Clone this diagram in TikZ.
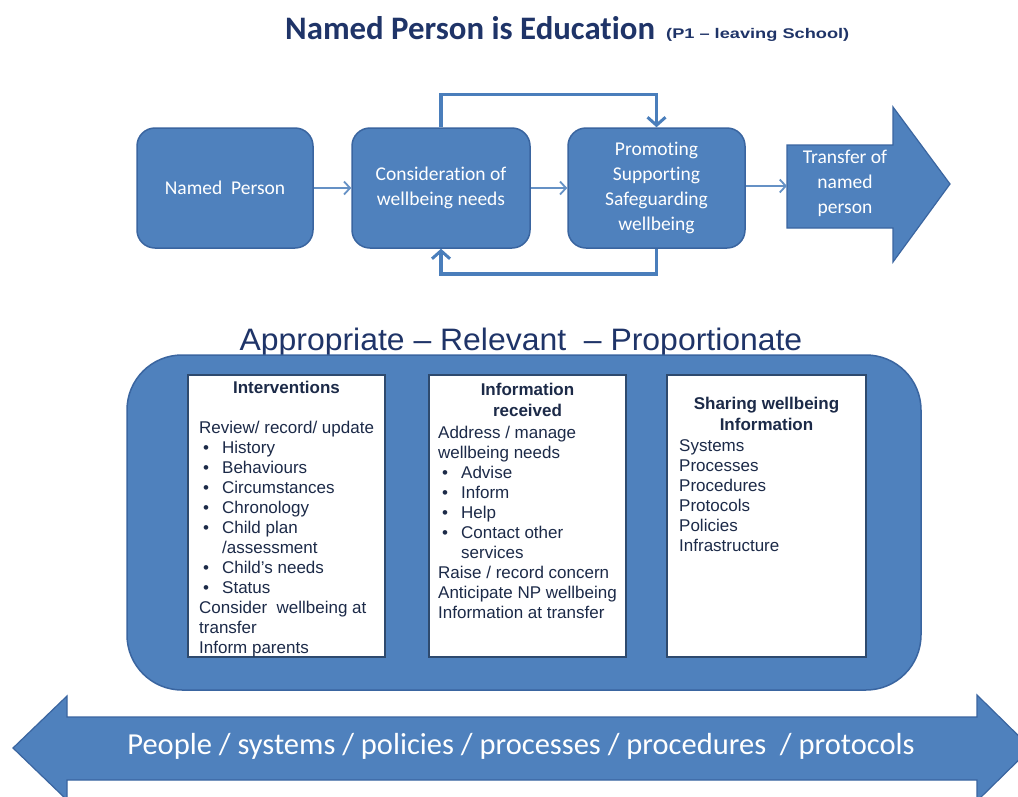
\documentclass[tikz,border=0pt]{standalone}
\usepackage{fontspec}
\setmainfont{Liberation Sans}
\newfontfamily\calfont[Ligatures={NoCommon,NoContextual}]{Carlito}
\usetikzlibrary{arrows.meta}
\definecolor{boxblue}{HTML}{4F81BD}
\definecolor{boxedge}{HTML}{3A65A0}
\definecolor{linkblue}{HTML}{4A7EBB}
\definecolor{titlenavy}{HTML}{1F3468}
\definecolor{textnavy}{HTML}{1C2A48}
\definecolor{whiteedge}{HTML}{2E4A6E}
\newcommand{\bitem}[1]{\makebox[23pt][l]{\hspace{4pt}\textbullet}#1}
\newcommand{\hangline}[1]{\hspace{23pt}#1}
\begin{document}
\begin{tikzpicture}[x=1pt,y=-1pt,
  flowbox/.style={draw=boxedge, line width=1.5pt, fill=boxblue, rounded corners=18pt,
    text=white, font=\calfont\fontsize{19.5}{25}\selectfont, align=center, inner sep=0,
    minimum height=120pt},
  thinlink/.style={draw=linkblue!85!white, line width=1.8pt, -{Straight Barb[length=6pt,width=13pt,line width=1.8pt]}},
  looplink/.style={draw=linkblue, line width=3.5pt, -{Straight Barb[length=8pt,width=18pt,line width=3pt]}},
  panel/.style={draw=boxedge, line width=1.5pt, fill=boxblue, rounded corners=55pt, inner sep=0},
  whitebox/.style={draw=whiteedge, line width=1.2pt, fill=white, inner sep=0, minimum height=282pt},
  bodytext/.style={font=\fontsize{17}{20}\selectfont, align=left, inner sep=0, text=textnavy},
  headtext/.style={font=\bfseries\fontsize{17}{21}\selectfont, align=center, inner sep=0, text=textnavy},
  shapefill/.style={fill=boxblue, draw=boxedge, line width=1.2pt}
]
\clip (0,0) rectangle (1018,796);
\fill[white] (0,0) rectangle (1018,796);

% Title
\node[anchor=base west, inner sep=0, text=titlenavy, font=\calfont\bfseries\fontsize{32.8}{36}\selectfont] (title) at (285,39) {Named Person is Education};
\node[anchor=base west, inner sep=0, text=titlenavy, font=\bfseries\fontsize{14}{16}\selectfont] (subtitle) at (666,38) {\scalebox{1.3}[1]{(P1 -- leaving School)}};

% Top flow
\node[flowbox, minimum width=176pt] (b1) at (225,188) {Named\ \ Person};
\node[flowbox, minimum width=178pt] (b2) at (441,188) {Consideration of\\wellbeing needs};
\node[flowbox, minimum width=177pt] (b3) at (656.5,188) {Promoting\\Supporting\\Safeguarding\\wellbeing};
\draw[shapefill] (787,145) -- (893,145) -- (893,107) -- (950,184) -- (893,262) -- (893,228) -- (787,228) -- cycle;
\coordinate (arrL) at (787,186);
\node[inner sep=0, text=white, align=center, font=\calfont\fontsize{19.5}{25}\selectfont] (tr) at (845,183) {Transfer of\\named\\person};

\draw[thinlink] (b1.east) -- (b2.west);
\draw[thinlink] (b2.east) -- (b3.west);
\draw[thinlink] (b3.east |- arrL) -- (arrL);
\draw[looplink] (b2.north) -- ++(0,-33) -| (b3.north);
\draw[looplink] (b3.south) -- ++(0,25) -| (b2.south);

% Middle heading
\node[anchor=base, inner sep=0, text=titlenavy, font=\fontsize{31}{34}\selectfont] (arp) at (521,350) {\scalebox{1.03}[1]{Appropriate -- Relevant\ \ -- Proportionate}};

% Panel
\node[panel, minimum width=794pt, minimum height=335pt] (pan) at (524,522.5) {};
\node[whitebox, minimum width=197pt] (wa) at (286.5,516) {};
\node[whitebox, minimum width=197pt] (wb) at (527.5,516) {};
\node[whitebox, minimum width=199pt] (wc) at (766.5,516) {};

% multi-line nodes: base anchor = baseline of last line
\node[headtext, anchor=base] (wahead) at (286.5,393) {Interventions};
\node[bodytext, anchor=base west] (wabody) at (199,653) {Review/ record/ update\\
\bitem{History}\\
\bitem{Behaviours}\\
\bitem{Circumstances}\\
\bitem{Chronology}\\
\bitem{Child plan}\\
\hangline{/assessment}\\
\bitem{Child's needs}\\
\bitem{Status}\\
Consider\ \ wellbeing at\\
transfer\\
Inform parents};

\node[headtext, anchor=base] (wbhead) at (527.5,416) {Information\\received};
\node[bodytext, anchor=base west] (wbbody) at (438,618) {Address / manage\\
wellbeing needs\\
\bitem{Advise}\\
\bitem{Inform}\\
\bitem{Help}\\
\bitem{Contact other}\\
\hangline{services}\\
Raise / record concern\\
Anticipate NP wellbeing\\
Information at transfer};

\node[headtext, anchor=base] (wchead) at (766.5,430) {Sharing wellbeing\\Information};
\node[bodytext, anchor=base west] (wcbody) at (679,551) {Systems\\
Processes\\
Procedures\\
Protocols\\
Policies\\
Infrastructure};

% Bottom double arrow
\draw[shapefill] (13,748) -- (67,696) -- (67,717) -- (977,717) -- (977,695) -- (1031,748) -- (977,801) -- (977,780) -- (67,780) -- (67,800) -- cycle;
\node[inner sep=0, text=white, font=\calfont\fontsize{30.5}{34}\selectfont] (ppl) at (521,746) {People / systems / policies / processes / procedures\ \ / protocols};
\end{tikzpicture}
\end{document}
